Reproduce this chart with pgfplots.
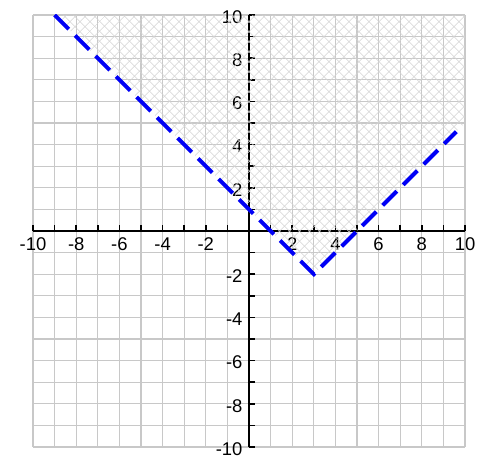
\documentclass[border=0pt]{standalone}
\usepackage{fontspec}
\setmainfont{Liberation Sans}
\usepackage{pgfplots}
\pgfplotsset{compat=1.18}
\usetikzlibrary{patterns.meta}

\definecolor{gridgray}{RGB}{200,200,200}
\definecolor{hatchgray}{RGB}{212,212,212}
\definecolor{lineblue}{RGB}{0,0,245}

\begin{document}
\begin{tikzpicture}
\begin{axis}[
    scale only axis,
    width=432bp, height=432bp,
    xmin=-10, xmax=10, ymin=-10, ymax=10,
    axis lines=middle,
    axis line style={black, line width=1.5bp, -},
    xtick={-10,-8,-6,-4,-2,2,4,6,8,10},
    ytick={-10,-8,-6,-4,-2,2,4,6,8,10},
    minor xtick={-9,-7,-5,-3,-1,1,3,5,7,9},
    minor ytick={-9,-7,-5,-3,-1,1,3,5,7,9},
    grid=both,
    grid style={draw=gridgray, line width=1.3bp},
    minor grid style={draw=gridgray, line width=1.3bp},
    tick align=center,
    major tick length=6bp, minor tick length=6bp,
    xtick style={black, line width=1.5bp, yshift=3bp},
    ytick style={black, line width=1.5bp, xshift=3bp},
    /pgf/number format/assume math mode=true,
    tick label style={font=\fontsize{18.5}{18.5}\selectfont},
    yticklabel style={yshift=-2bp},
]
\addplot[draw=none, pattern={Lines[angle=45, distance=7.64bp, line width=0.8bp]}, pattern color=hatchgray]
    coordinates {(-9,10) (3,-2) (10,5) (10,10)} -- cycle;
\addplot[draw=none, pattern={Lines[angle=-45, distance=7.64bp, line width=0.8bp]}, pattern color=hatchgray]
    coordinates {(-9,10) (3,-2) (10,5) (10,10)} -- cycle;
\addplot[lineblue, line width=4bp, dash pattern=on 20bp off 9bp]
    coordinates {(-9,10) (3,-2) (9.6,4.6)};
\end{axis}
\path (current axis.south west) ++(-33bp,-10bp);
\path (current axis.north east) ++(22bp,15bp);
\end{tikzpicture}
\end{document}
